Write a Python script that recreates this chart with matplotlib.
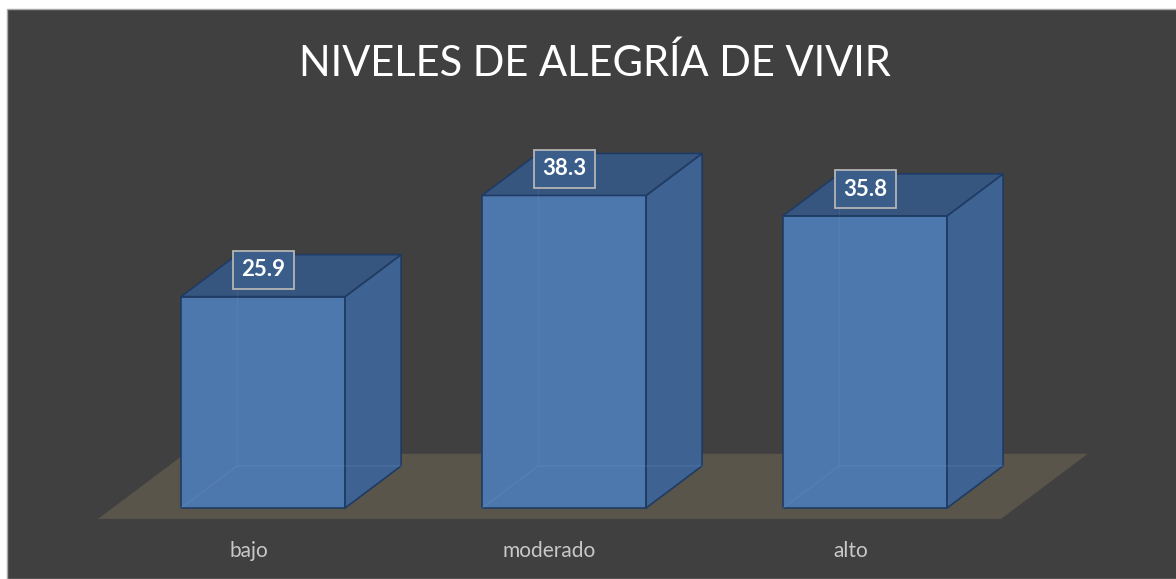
import matplotlib.pyplot as plt
from matplotlib.patches import Polygon, Rectangle

categorias = ["bajo", "moderado", "alto"]
valores = [25.9, 38.3, 35.8]
titulo = "NIVELES DE ALEGRÍA DE VIVIR"

# colores
fondo = "#404040"
piso = "#59554b"
frente = "#4d78ad"
lateral = "#3e6291"
tapa = "#36567f"
borde = "#1f3b63"

# geometria 3D (en unidades de datos)
ancho = 0.545
prof_x = 0.186
prof_y = 5.15


def cara(puntos, color, z):
    return Polygon(puntos, closed=True, facecolor=color, edgecolor=borde,
                   linewidth=1.2, zorder=z, joinstyle="round")


def dibujar_barra(ax, i, v, z):
    x0, x1 = i - ancho / 2, i + ancho / 2
    dx, dy = prof_x, prof_y
    ax.add_patch(cara([(x0, 0), (x1, 0), (x1, v), (x0, v)], frente, z))
    ax.add_patch(cara([(x1, 0), (x1 + dx, dy), (x1 + dx, v + dy), (x1, v)], lateral, z))
    ax.add_patch(cara([(x0, v), (x1, v), (x1 + dx, v + dy), (x0 + dx, v + dy)], tapa, z))
    # aristas ocultas (barra semitransparente)
    ax.plot([x0, x0 + dx, x1 + dx], [0, dy, dy], color="#7da3d6", lw=1, alpha=0.18, zorder=z + 0.1)
    ax.plot([x0 + dx, x0 + dx], [dy, v + dy], color="#7da3d6", lw=1, alpha=0.12, zorder=z + 0.1)


fig = plt.figure(figsize=(11.76, 5.79), dpi=100)
fig.patch.set_facecolor("white")
fig.patches.append(Rectangle((7 / 1176, 0), 1, 570 / 579, transform=fig.transFigure,
                             facecolor=fondo, edgecolor="#a8a8a8", linewidth=1, zorder=-5))

ax = fig.add_axes([0, 0, 1, 1])
ax.set_facecolor("none")
ax.set_xlim(-0.874, 3.033)
ax.set_ylim(-8.70, 62.25)
ax.axis("off")

# piso
n = len(categorias)
d0, d1 = -0.26, 1.29
xa, xb = -0.5, n - 0.5
ax.add_patch(Polygon([(xa + d0 * prof_x, d0 * prof_y), (xb + d0 * prof_x, d0 * prof_y),
                      (xb + d1 * prof_x, d1 * prof_y), (xa + d1 * prof_x, d1 * prof_y)],
                     closed=True, facecolor=piso, edgecolor="none", zorder=1))

for i, (cat, v) in enumerate(zip(categorias, valores)):
    dibujar_barra(ax, i, v, 2 + i)
    ax.text(i, v + 0.5 * prof_y + 0.7, f"{v:.1f}",
            ha="center", va="center", color="white", fontsize=16, fontweight="bold",
            family="Lato", zorder=10,
            bbox=dict(boxstyle="square,pad=0.38", facecolor="#3a5d8a", edgecolor="#b4b4b4", linewidth=1.3))
    ax.text(i + d0 * prof_x, -5.27, cat, ha="center", va="center",
            color="#c8c8c8", fontsize=15, family="Lato", zorder=10)

fig.text(0.506, 1 - 63 / 579, titulo, ha="center", va="center", color="white",
         fontsize=30, family="Lato")

fig.savefig("out.png", dpi=100, facecolor=fig.get_facecolor())
